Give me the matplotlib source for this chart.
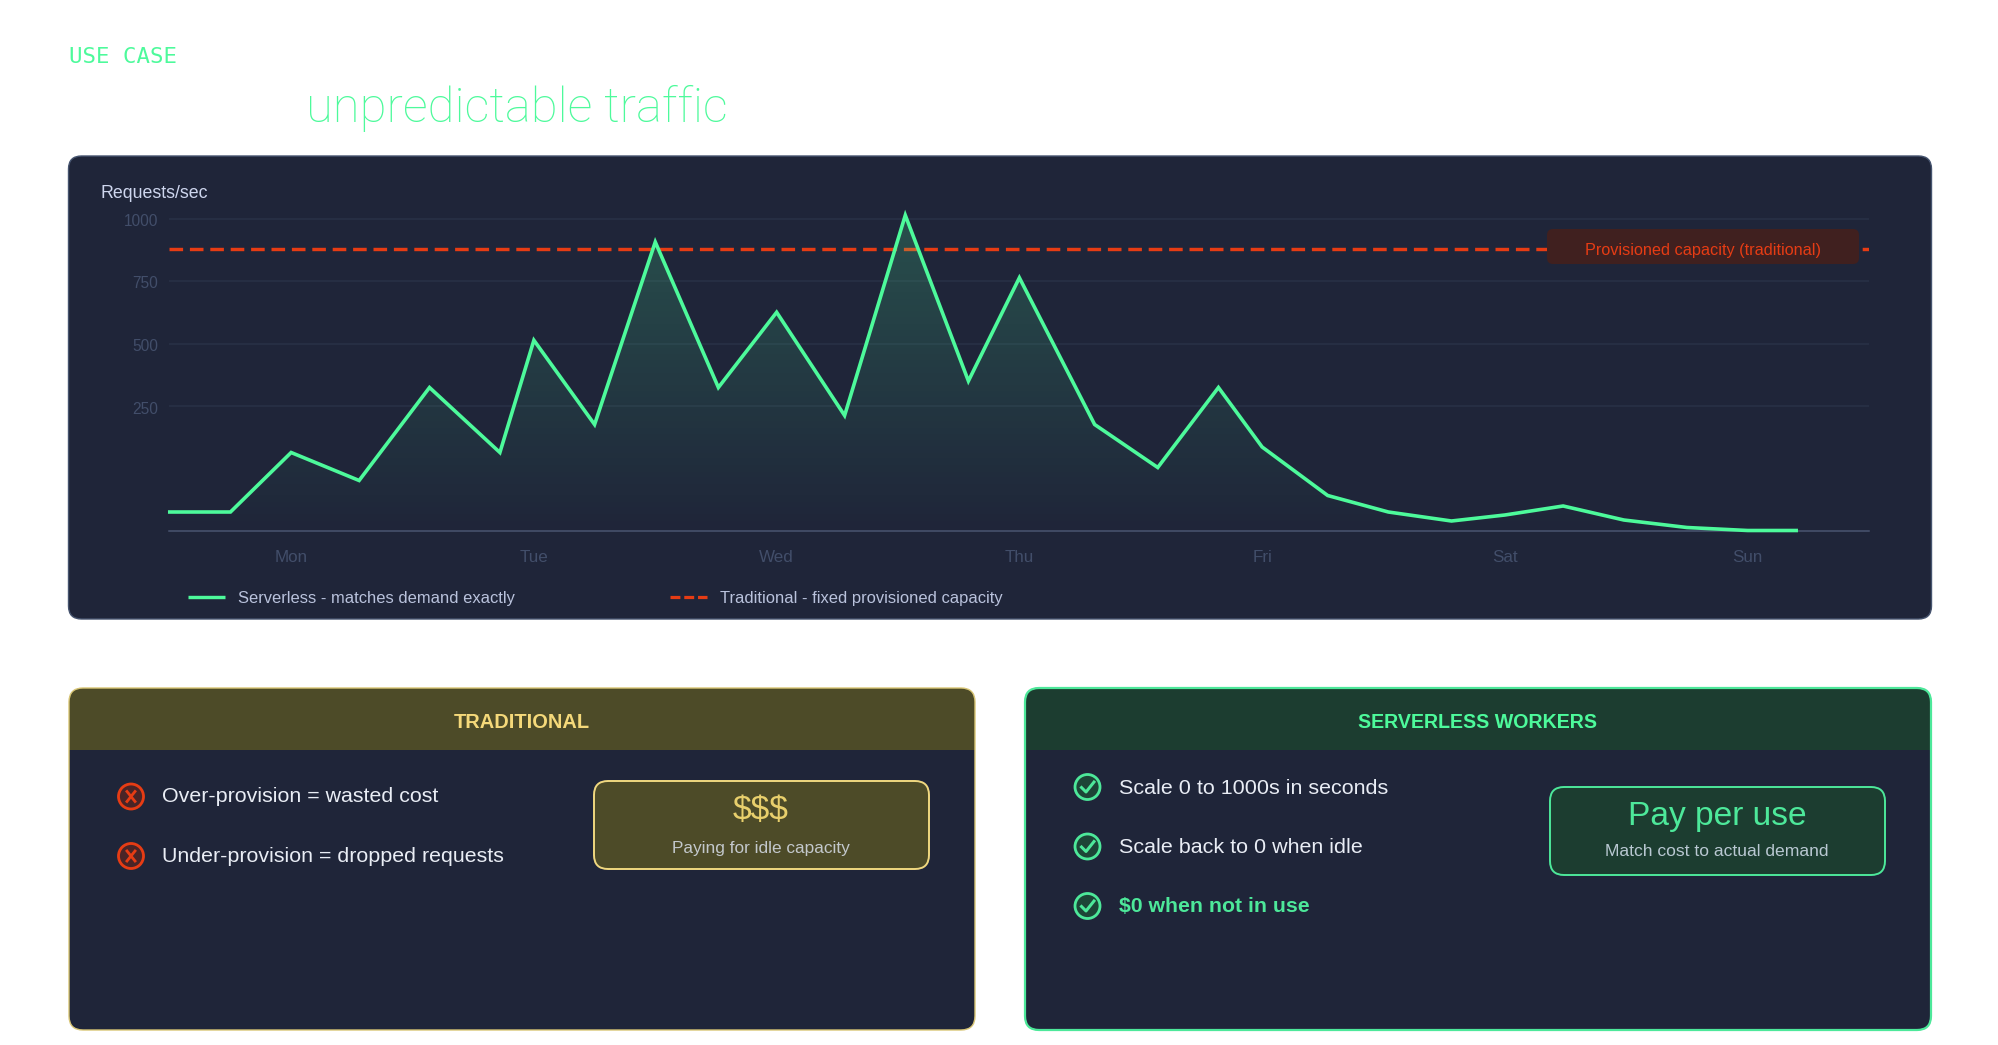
import numpy as np
import matplotlib
matplotlib.use("Agg")
import matplotlib.pyplot as plt
from matplotlib.colors import LinearSegmentedColormap
from matplotlib.lines import Line2D
from matplotlib.patches import FancyBboxPatch, Rectangle, Circle
from matplotlib.transforms import ScaledTranslation

# Demand, x is in days after Monday
day_pos = [-0.5, -0.25, 0, 0.28, 0.57, 0.86, 1, 1.25, 1.5, 1.76, 2, 2.28, 2.53, 2.79,
           3, 3.31, 3.57, 3.82, 4, 4.27, 4.52, 4.78, 5, 5.24, 5.49, 5.75, 6, 6.2]
requests = [38, 38, 157, 101, 324, 157, 513, 213, 906, 324, 625, 231, 1013, 350,
            763, 213, 127, 324, 168, 71, 38, 20, 32, 50, 22, 7, 1, 1]
capacity = 877
day_names = ["Mon", "Tue", "Wed", "Thu", "Fri", "Sat", "Sun"]
y_ticks = [250, 500, 750, 1000]
trad_items = ["Over-provision = wasted cost", "Under-provision = dropped requests"]
sl_items = ["Scale 0 to 1000s in seconds", "Scale back to 0 when idle", "$0 when not in use"]

GREEN = "#4dfa9b"
RED = "#e63c14"
GOLD = "#f5d97a"
PANEL = "#1f2539"
FONT = "Liberation Sans"
W, H = 1998, 1045


def pt(px):
    # sizes below are in pixels, figure is at 100 dpi
    return px * 0.72


def forward(v):
    v = np.asarray(v, dtype=float)
    return np.where(v < 250, v * 0.5, 125 + (v - 250) * 0.25)


def inverse(h):
    h = np.asarray(h, dtype=float)
    return np.where(h < 125, h * 2, 250 + (h - 125) * 4)


fig = plt.figure(figsize=(W / 100, H / 100), dpi=100, facecolor="white")
bg = fig.add_axes([0, 0, 1, 1], zorder=0)
bg.set_xlim(0, W)
bg.set_ylim(H, 0)
bg.axis("off")


def card(x0, y0, x1, y1, fc, ec, lw, r, zorder=1):
    p = FancyBboxPatch((x0, y0), x1 - x0, y1 - y0, boxstyle=f"round,pad=0,rounding_size={r}",
                       fc=fc, ec=ec, lw=lw, zorder=zorder)
    bg.add_patch(p)
    return p


def label(x, y, s, size, color, ha="left", weight="normal", family=FONT):
    bg.text(x, y, s, fontsize=pt(size), color=color, ha=ha, va="center", fontweight=weight,
            family=family, zorder=6)


# heading
label(69, 57, "USE CASE", 22.4, GREEN, family="DejaVu Sans Mono")
bg.text(306, 122, "unpredictable traffic", fontsize=pt(49), color=GREEN, ha="left", va="baseline",
        family="Roboto", fontweight="light", zorder=6)

# chart panel
card(68.5, 156, 1931.5, 619, PANEL, "#46546f", 1.0, 13)
label(100, 193, "Requests/sec", 17.8, "#ced6ee")

ax = fig.add_axes([168.8 / W, 1 - 531 / H, (1869 - 168.8) / W, (531 - 205) / H], zorder=1)
ax.patch.set_alpha(0)
ax.set_yscale("function", functions=(forward, inverse))
ax.set_xlim(-0.504, 6.5)
ax.set_ylim(0, float(inverse((531 - 205))))

# gradient under the line, clipped to the area
grad = LinearSegmentedColormap.from_list("g", [(0.30, 0.98, 0.61, 0.0), (0.30, 0.98, 0.61, 0.2)])
levels = np.linspace(0, max(requests), 300)
mesh = ax.pcolormesh([day_pos[0], day_pos[-1]], levels, forward(levels[:-1]).reshape(-1, 1),
                     cmap=grad, shading="flat", vmin=0, vmax=float(forward(max(requests))),
                     antialiased=False, zorder=2, linewidth=0, rasterized=True)
area = ax.fill_between(day_pos, 0, requests, color="none", lw=0)
mesh.set_clip_path(area.get_paths()[0], ax.transData)

# red goes under the fill and the green line
ax.plot([-0.504, 6.5], [capacity, capacity], color=RED, lw=pt(3.4), dashes=(4.0, 2.0), zorder=1.5)
ax.plot(day_pos, requests, color=GREEN, lw=pt(3.6), solid_joinstyle="miter", zorder=3, clip_on=False)

ax.set_yticks(y_ticks)
ax.set_yticklabels([str(t) for t in y_ticks], family=FONT, fontsize=pt(15.5), color="#424e6a")
ax.yaxis.set_minor_locator(matplotlib.ticker.NullLocator())
ax.set_xticks(range(len(day_names)))
ax.set_xticklabels(day_names, family=FONT, fontsize=pt(17), color="#424e6a")
ax.tick_params(axis="both", length=0)
ax.tick_params(axis="x", pad=pt(19))
ax.tick_params(axis="y", pad=pt(11))
ax.grid(axis="y", color="#293247", lw=pt(1.5))
ax.set_axisbelow(True)
for s in ["top", "left", "right"]:
    ax.spines[s].set_visible(False)
ax.spines["bottom"].set_color("#4a5672")
ax.spines["bottom"].set_linewidth(pt(1.5))
# y labels sit a touch under their gridlines
for t in ax.get_yticklabels():
    t.set_transform(t.get_transform() + ScaledTranslation(0, -1.5 / 100, fig.dpi_scale_trans))

tag = FancyBboxPatch((1547, 229), 312, 35, boxstyle="round,pad=0,rounding_size=6", fc="#40201f",
                     ec="none", transform=bg.transData, zorder=5, clip_on=False)
ax.add_patch(tag)
ax.text(1703, 250, "Provisioned capacity (traditional)", transform=bg.transData, fontsize=pt(16.2),
        color=RED, ha="center", va="center", family=FONT, zorder=6)

handles = [Line2D([], [], color=GREEN, lw=pt(3.4), solid_capstyle="butt"),
           Line2D([], [], color=RED, lw=pt(3.2), dashes=(3.1, 1.2))]
leg = ax.legend(handles, ["Serverless - matches demand exactly", "Traditional - fixed provisioned capacity"],
                ncol=2, frameon=False, loc="center left", bbox_to_anchor=(187.5 / W, 1 - 598.5 / H),
                bbox_transform=fig.transFigure, borderaxespad=0, borderpad=0, handlelength=2.28,
                handletextpad=0.77, columnspacing=9.4, prop={"family": FONT, "size": pt(16.5)})
for t in leg.get_texts():
    t.set_color("#b9c2dc")

# comparison panels
for x0, x1, edge, head, title, tcol, lw, size in [
        (69, 975, "#d9c675", "#4d4b28", "TRADITIONAL", GOLD, 1.0, 20),
        (1025, 1931, "#4de89a", "#1c3d30", "SERVERLESS WORKERS", GREEN, 1.6, 19.6)]:
    body = card(x0, 688, x1, 1030, PANEL, "none", 0, 14)
    header = Rectangle((x0, 688), x1 - x0, 62, fc=head, ec="none", zorder=2)
    bg.add_patch(header)
    header.set_clip_path(body)
    card(x0, 688, x1, 1030, "none", edge, lw, 14, zorder=3)
    label((x0 + x1) / 2, 722, title, size, tcol, ha="center", weight="bold")

for y, s in zip([796.5, 856], trad_items):
    bg.add_patch(Circle((131, y), 12.5, fc="#4a2426", ec=RED, lw=pt(2.8), zorder=4))
    bg.plot([127, 135], [y - 5, y + 5], color=RED, lw=pt(2.8), zorder=5)
    bg.plot([127, 135], [y + 5, y - 5], color=RED, lw=pt(2.8), zorder=5)
    label(162.5, y + 0.5, s, 21.4, "#e9edf5")

for i, (y, s) in enumerate(zip([787, 846.5, 906], sl_items)):
    bg.add_patch(Circle((1087.5, y), 12.5, fc="#1d4537", ec="#4de89a", lw=pt(2.8), zorder=4))
    bg.plot([1081.5, 1086, 1094], [y + 0.5, y + 5, y - 5], color="#4de89a", lw=pt(3), zorder=5)
    label(1119, y + 1, s, 21.3 if i == 2 else 21.5, "#4de89a" if i == 2 else "#e9edf5",
          weight="bold" if i == 2 else "normal")

card(594, 781, 929, 869, "#4d4b28", "#f0d880", 1.4, 14, zorder=4)
label(761, 810, "$$$", 33.5, "#e8cf6c", ha="center")
label(761, 849, "Paying for idle capacity", 17.3, "#c3c8cc", ha="center")

card(1550, 787, 1885, 875, "#1c3d30", "#4de89a", 1.4, 14, zorder=4)
label(1717, 816, "Pay per use", 33.5, "#4de89a", ha="center")
label(1717, 852, "Match cost to actual demand", 17.5, "#b9c8d2", ha="center")

fig.savefig("out.png", dpi=100)
